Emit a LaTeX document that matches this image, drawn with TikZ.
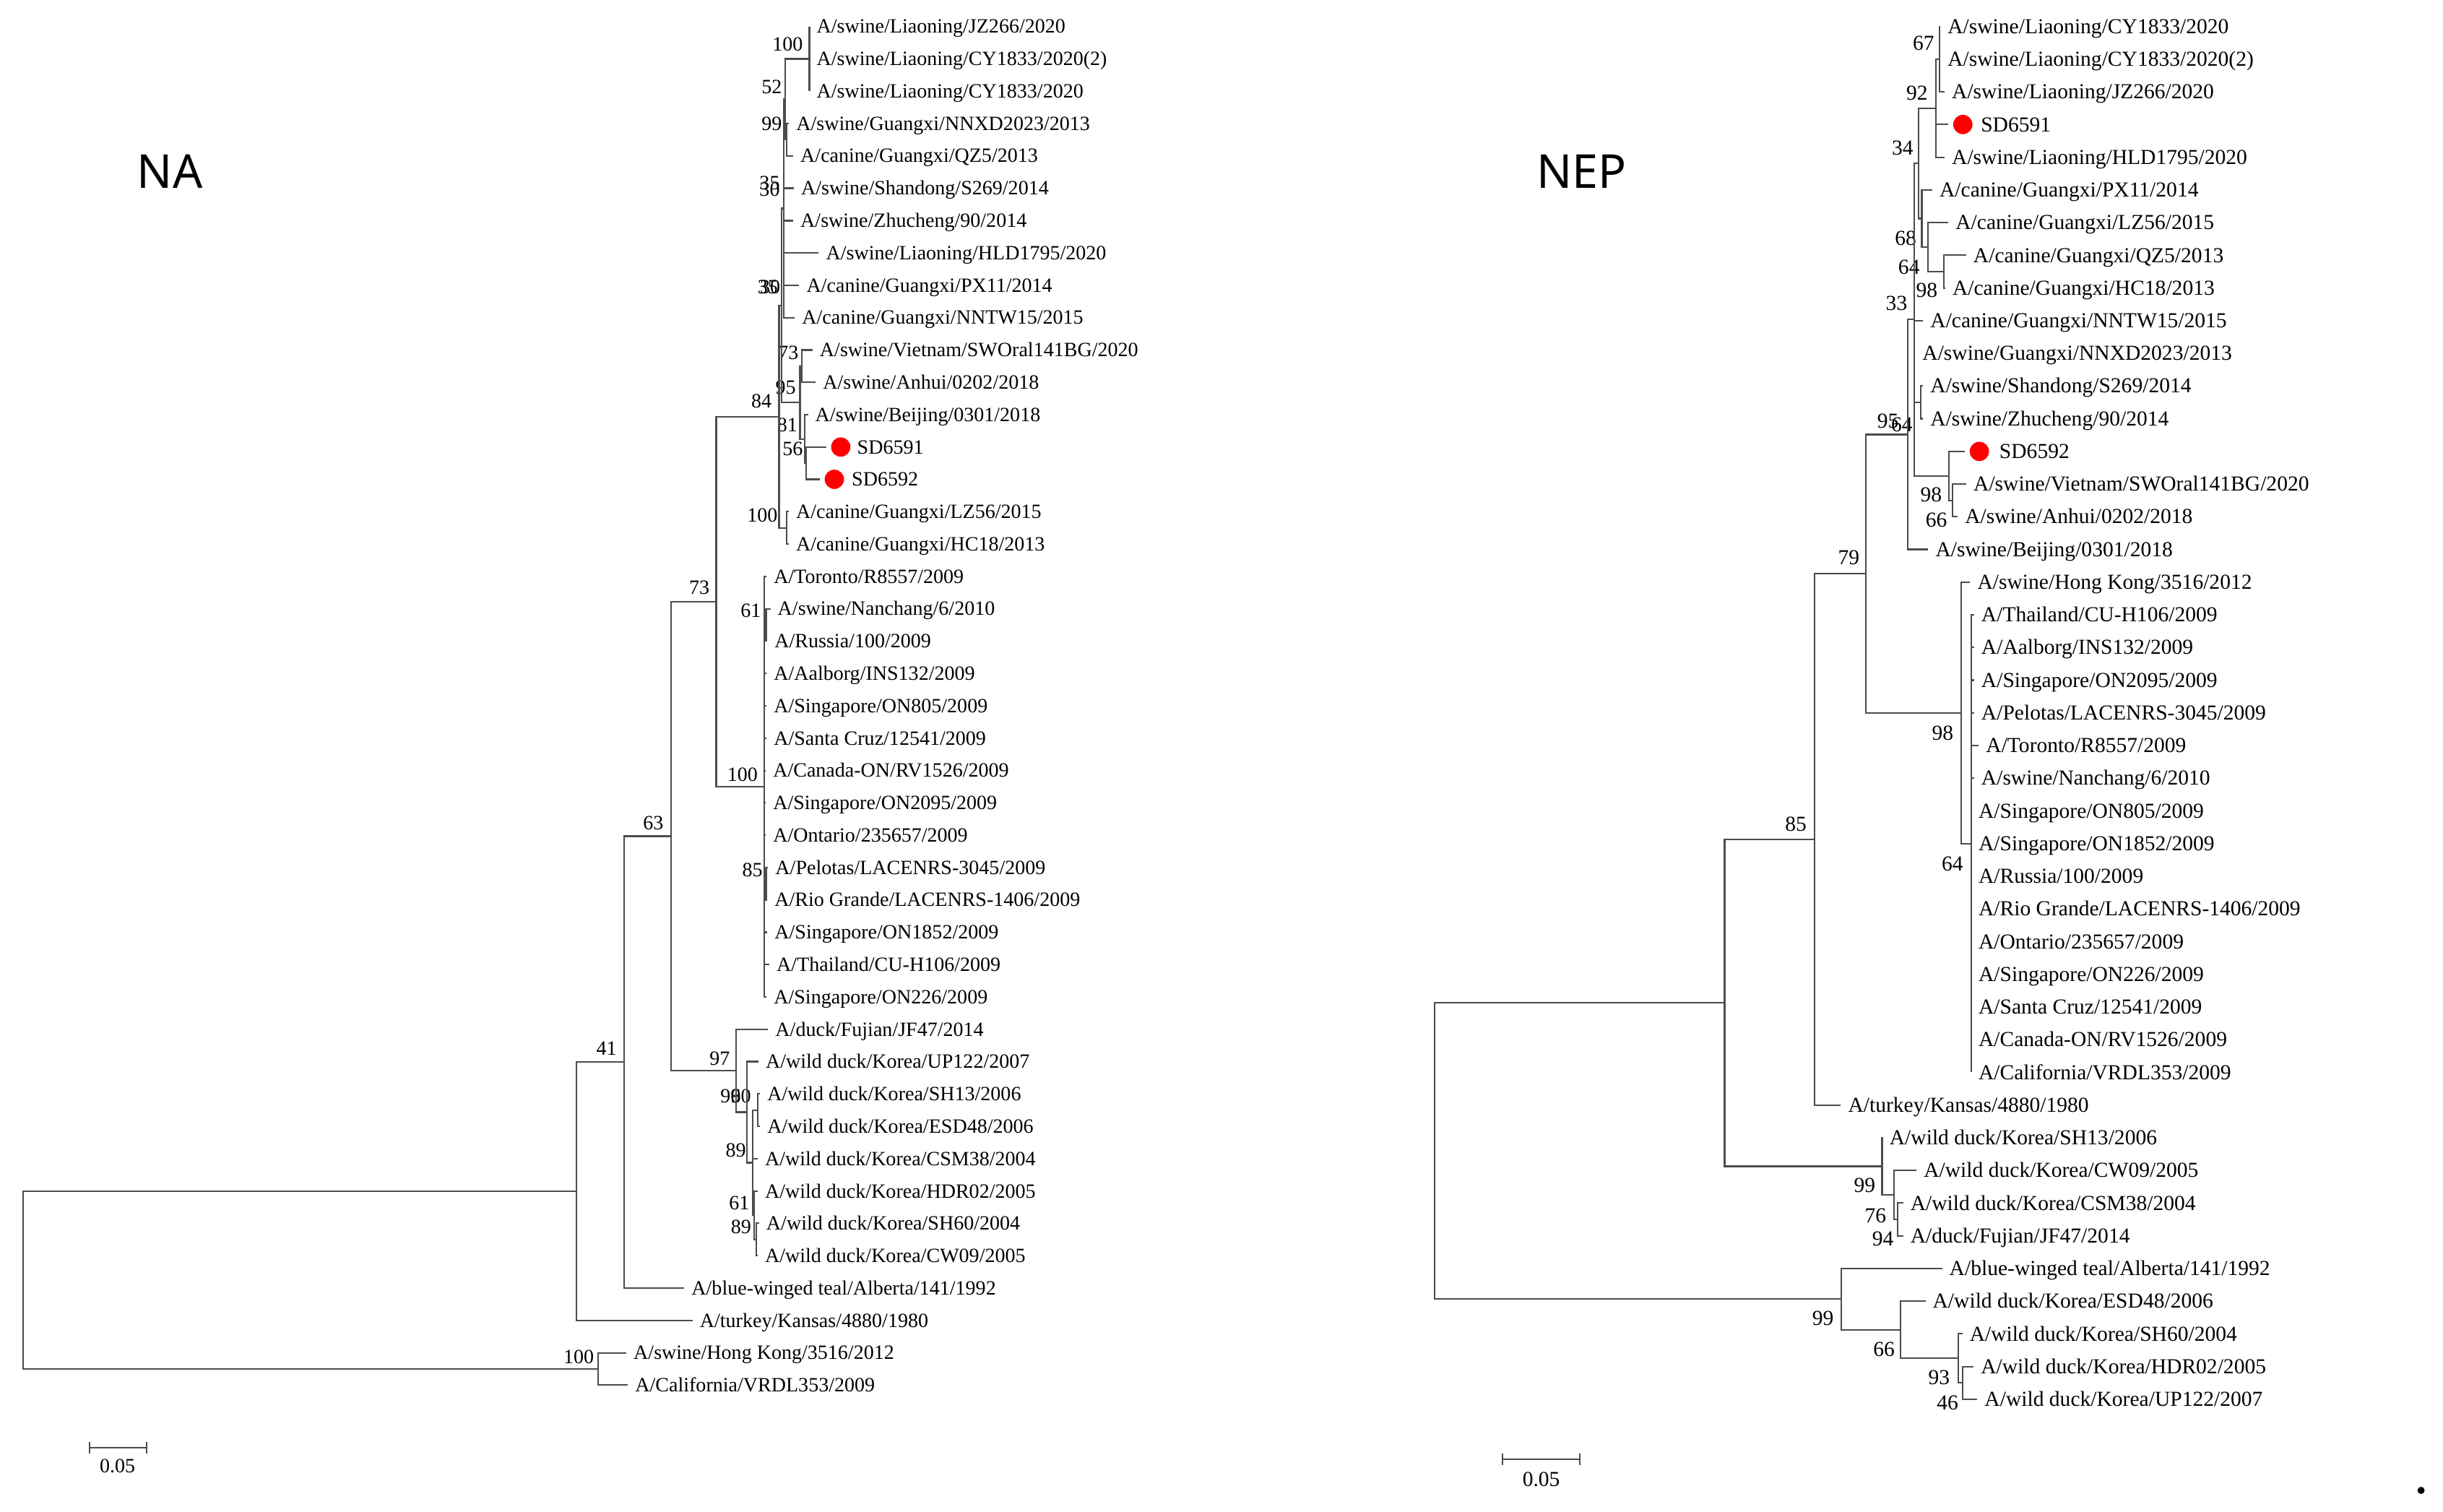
\documentclass[tikz,border=0pt]{standalone}
\usepackage{fontspec}
\setmainfont{Liberation Serif}
\newfontfamily\headfont{Noto Sans}
\newcommand{\tipsize}{\fontsize{13}{15}\selectfont}
\newcommand{\nepsize}{\fontsize{13.7}{16}\selectfont}
\newcommand{\headsize}{\headfont\fontsize{30}{34}\selectfont}

\tikzset{
	treepicture/.style = {
		x = 1pt,
		y = -1pt,
		branch/.style = {
			draw = black!70,
			line width = 1pt
		}
	},
	tip/.style = {
		anchor = west,
		inner xsep = 4.5pt,
		inner ysep = 0pt,
		text height = 8.6pt,
		text depth = 0pt,
		font = \tipsize
	},
	boot/.style = {
		anchor = east,
		inner sep = 0pt,
		text height = 8.6pt,
		text depth = 0pt,
		font = \tipsize
	},
	neptip/.style = {
		tip,
		text height = 9pt,
		font = \nepsize
	},
	nepboot/.style = {
		boot,
		text height = 9pt,
		font = \nepsize
	},
	barlabel/.style = {
		inner sep = 0pt,
		text height = 8.6pt,
		text depth = 0pt,
		font = \tipsize
	},
	sample/.style = {
		circle,
		fill = red,
		inner sep = 0pt,
		minimum size = 12.4pt,
		outer sep = 3pt
	},
	genetitle/.style = {
		font = \headsize
	}
}

\begin{document}
\begin{tikzpicture}[treepicture]
	\useasboundingbox (0,0) rectangle (1568,970);

	\node[genetitle] (titleNA) at (109,110) {NA};
	\node[genetitle] (titleNEP) at (1015,110) {NEP};

	\coordinate (naRoot) at (15,821.5);
	\coordinate (naO) at (384,878.55);
	\coordinate (naU) at (370,764.5);
	\coordinate (naN41) at (400.6,681.6);
	\coordinate (naN63) at (430.7,536.65);
	\coordinate (naN73) at (459.7,386.1);
	\coordinate (naN84) at (500,267.4);
	\coordinate (naTop) at (501.8,196.05);
	\coordinate (naMid) at (503,133.75);
	\coordinate (naN52) at (504,63.7);
	\coordinate (naLia) at (519.5,37.8);
	\coordinate (naN99) at (505,89.65);
	\coordinate (naN95) at (513.5,258.35);
	\coordinate (naVie) at (514.7,235);
	\coordinate (naN81) at (516.5,281.7);
	\coordinate (naN56) at (517.5,297.25);
	\coordinate (naCan) at (505,338.8);
	\coordinate (naPan) at (490.7,504.85);
	\coordinate (naNan) at (491.7,401.05);
	\coordinate (naPel) at (491.7,567.15);
	\coordinate (naN97) at (472.5,687.2);
	\coordinate (naKor) at (479.5,713.75);
	\coordinate (naN89) at (483.1,746.2);
	\coordinate (naEsd) at (486.2,712.45);
	\coordinate (naN61) at (484,779.95);
	\coordinate (naSh) at (485.5,795.5);

	\node[tip] (na1) at (519.5,17) {A/swine/Liaoning/JZ266/2020};
	\node[tip] (na2) at (519.5,37.8) {A/swine/Liaoning/CY1833/2020(2)};
	\node[tip] (na3) at (519.5,58.5) {A/swine/Liaoning/CY1833/2020};
	\node[tip] (na4) at (506.4,79.3) {A/swine/Guangxi/NNXD2023/2013};
	\node[tip] (na5) at (509.1,100) {A/canine/Guangxi/QZ5/2013};
	\node[tip] (na6) at (509.5,120.8) {A/swine/Shandong/S269/2014};
	\node[tip] (na7) at (509.1,141.6) {A/swine/Zhucheng/90/2014};
	\node[tip] (na8) at (525.5,162.3) {A/swine/Liaoning/HLD1795/2020};
	\node[tip] (na9) at (513,183.1) {A/canine/Guangxi/PX11/2014};
	\node[tip] (na10) at (510.1,203.8) {A/canine/Guangxi/NNTW15/2015};
	\node[tip] (na11) at (521.5,224.6) {A/swine/Vietnam/SWOral141BG/2020};
	\node[tip] (na12) at (523.5,245.4) {A/swine/Anhui/0202/2018};
	\node[tip] (na13) at (518.6,266.1) {A/swine/Beijing/0301/2018};
	\node[sample] (dotA1) at (539.6,286.9) {};
	\node[tip] (na14) at (545.5,286.9) {SD6591};
	\node[sample] (dotA2) at (535.5,307.6) {};
	\node[tip] (na15) at (542,307.6) {SD6592};
	\node[tip] (na16) at (506.3,328.4) {A/canine/Guangxi/LZ56/2015};
	\node[tip] (na17) at (506.3,349.2) {A/canine/Guangxi/HC18/2013};
	\node[tip] (na18) at (492,369.9) {A/Toronto/R8557/2009};
	\node[tip] (na19) at (494.5,390.7) {A/swine/Nanchang/6/2010};
	\node[tip] (na20) at (492.5,411.4) {A/Russia/100/2009};
	\node[tip] (na21) at (492,432.2) {A/Aalborg/INS132/2009};
	\node[tip] (na22) at (492,453) {A/Singapore/ON805/2009};
	\node[tip] (na23) at (492,473.7) {A/Santa Cruz/12541/2009};
	\node[tip] (na24) at (491.5,494.5) {A/Canada-ON/RV1526/2009};
	\node[tip] (na25) at (491.5,515.2) {A/Singapore/ON2095/2009};
	\node[tip] (na26) at (491.5,536) {A/Ontario/235657/2009};
	\node[tip] (na27) at (493,556.8) {A/Pelotas/LACENRS-3045/2009};
	\node[tip] (na28) at (492.5,577.5) {A/Rio Grande/LACENRS-1406/2009};
	\node[tip] (na29) at (492.5,598.3) {A/Singapore/ON1852/2009};
	\node[tip] (na30) at (493.8,619) {A/Thailand/CU-H106/2009};
	\node[tip] (na31) at (492,639.8) {A/Singapore/ON226/2009};
	\node[tip] (na32) at (493,660.6) {A/duck/Fujian/JF47/2014};
	\node[tip] (na33) at (486.8,681.3) {A/wild duck/Korea/UP122/2007};
	\node[tip] (na34) at (487.8,702.1) {A/wild duck/Korea/SH13/2006};
	\node[tip] (na35) at (487.8,722.8) {A/wild duck/Korea/ESD48/2006};
	\node[tip] (na36) at (486.3,743.6) {A/wild duck/Korea/CSM38/2004};
	\node[tip] (na37) at (486.3,764.4) {A/wild duck/Korea/HDR02/2005};
	\node[tip] (na38) at (487.2,785.1) {A/wild duck/Korea/SH60/2004};
	\node[tip] (na39) at (486.3,805.9) {A/wild duck/Korea/CW09/2005};
	\node[tip] (na40) at (439.2,826.6) {A/blue-winged teal/Alberta/141/1992};
	\node[tip] (na41) at (444.5,847.4) {A/turkey/Kansas/4880/1980};
	\node[tip] (na42) at (402,868.2) {A/swine/Hong Kong/3516/2012};
	\node[tip] (na43) at (403,888.9) {A/California/VRDL353/2009};

	\node[boot] (bsA1) at (515.5,28.6) {100};
	\node[boot] (bsA2) at (502,55.6) {52};
	\node[boot] (bsA3) at (502,79.6) {99};
	\node[boot] (bsA4) at (500.7,117.5) {35};
	\node[boot] (bsA5) at (500.7,121.5) {30};
	\node[boot] (bsA6) at (499.5,184.3) {35};
	\node[boot] (bsA7) at (501,184.3) {30};
	\node[boot] (bsA8) at (512.7,226.4) {73};
	\node[boot] (bsA9) at (511,248.8) {95};
	\node[boot] (bsA10) at (495.4,257.3) {84};
	\node[boot] (bsA11) at (512,272.7) {81};
	\node[boot] (bsA12) at (515.5,288.2) {56};
	\node[boot] (bsA13) at (499.3,330.7) {100};
	\node[boot] (bsA14) at (455.5,376.9) {73};
	\node[boot] (bsA15) at (488.6,392) {61};
	\node[boot] (bsA16) at (486.5,497) {100};
	\node[boot] (bsA17) at (489.6,558.5) {85};
	\node[boot] (bsA18) at (426,528.3) {63};
	\node[boot] (bsA19) at (468.6,679.5) {97};
	\node[boot] (bsA20) at (475.6,703.2) {96};
	\node[boot] (bsA21) at (482.2,703.2) {90};
	\node[boot] (bsA22) at (479,738.3) {89};
	\node[boot] (bsA23) at (481.2,772.2) {61};
	\node[boot] (bsA24) at (482.3,787.2) {89};
	\node[boot] (bsA25) at (396,673) {41};
	\node[boot] (bsA26) at (381.4,870.9) {100};

	\coordinate (nbRoot) at (920.7,738.7);
	\coordinate (nbUp) at (1106.9,643.6);
	\coordinate (nbN85) at (1164.7,538.7);
	\coordinate (nbN79) at (1197.5,368.2);
	\coordinate (nbPan) at (1258.9,457.5);
	\coordinate (nb2009) at (1265.2,541.4);
	\coordinate (nbN95) at (1224.3,278.85);
	\coordinate (nbN33) at (1228.8,205.1);
	\coordinate (nbN34) at (1231.3,104.85);
	\coordinate (nbN92) at (1242.7,69.45);
	\coordinate (nbLia) at (1244.7,38);
	\coordinate (nbN68) at (1233.5,140.25);
	\coordinate (nbLz) at (1237.5,158.6);
	\coordinate (nbQz) at (1247.8,174.3);
	\coordinate (nbSha) at (1232.8,258.2);
	\coordinate (nbSd) at (1251,305.4);
	\coordinate (nbVie) at (1253.2,321.15);
	\coordinate (nbN99a) at (1208,748.5);
	\coordinate (nbN76) at (1215.5,766.85);
	\coordinate (nbN94) at (1218,782.6);
	\coordinate (nbN99b) at (1181.8,833.75);
	\coordinate (nbN66) at (1219.7,853.4);
	\coordinate (nbN93) at (1257,871.75);
	\coordinate (nbN46) at (1259.8,887.5);

	\node[neptip] (nb1) at (1245.4,17) {A/swine/Liaoning/CY1833/2020};
	\node[neptip] (nb2) at (1245.4,38) {A/swine/Liaoning/CY1833/2020(2)};
	\node[neptip] (nb3) at (1248.1,59) {A/swine/Liaoning/JZ266/2020};
	\node[sample] (dotB1) at (1259.8,79.9) {};
	\node[neptip] (nb4) at (1266.7,79.9) {SD6591};
	\node[neptip] (nb5) at (1248.1,100.9) {A/swine/Liaoning/HLD1795/2020};
	\node[neptip] (nb6) at (1240.2,121.9) {A/canine/Guangxi/PX11/2014};
	\node[neptip] (nb7) at (1250.5,142.9) {A/canine/Guangxi/LZ56/2015};
	\node[neptip] (nb8) at (1261.9,163.8) {A/canine/Guangxi/QZ5/2013};
	\node[neptip] (nb9) at (1248.5,184.8) {A/canine/Guangxi/HC18/2013};
	\node[neptip] (nb10) at (1234.3,205.8) {A/canine/Guangxi/NNTW15/2015};
	\node[neptip] (nb11) at (1229.2,226.8) {A/swine/Guangxi/NNXD2023/2013};
	\node[neptip] (nb12) at (1234.3,247.7) {A/swine/Shandong/S269/2014};
	\node[neptip] (nb13) at (1234.3,268.7) {A/swine/Zhucheng/90/2014};
	\node[sample] (dotB2) at (1270.4,289.7) {};
	\node[neptip] (nb14) at (1278.6,289.7) {SD6592};
	\node[neptip] (nb15) at (1262,310.7) {A/swine/Vietnam/SWOral141BG/2020};
	\node[neptip] (nb16) at (1256.5,331.6) {A/swine/Anhui/0202/2018};
	\node[neptip] (nb17) at (1237.6,352.6) {A/swine/Beijing/0301/2018};
	\node[neptip] (nb18) at (1264.5,373.6) {A/swine/Hong Kong/3516/2012};
	\node[neptip] (nb19) at (1267,394.6) {A/Thailand/CU-H106/2009};
	\node[neptip] (nb20) at (1267,415.5) {A/Aalborg/INS132/2009};
	\node[neptip] (nb21) at (1267,436.5) {A/Singapore/ON2095/2009};
	\node[neptip] (nb22) at (1267,457.5) {A/Pelotas/LACENRS-3045/2009};
	\node[neptip] (nb23) at (1270,478.5) {A/Toronto/R8557/2009};
	\node[neptip] (nb24) at (1267,499.4) {A/swine/Nanchang/6/2010};
	\node[neptip] (nb25) at (1265.2,520.4) {A/Singapore/ON805/2009};
	\node[neptip] (nb26) at (1265.2,541.4) {A/Singapore/ON1852/2009};
	\node[neptip] (nb27) at (1265.2,562.4) {A/Russia/100/2009};
	\node[neptip] (nb28) at (1265.2,583.3) {A/Rio Grande/LACENRS-1406/2009};
	\node[neptip] (nb29) at (1265.2,604.3) {A/Ontario/235657/2009};
	\node[neptip] (nb30) at (1265.2,625.3) {A/Singapore/ON226/2009};
	\node[neptip] (nb31) at (1265.2,646.3) {A/Santa Cruz/12541/2009};
	\node[neptip] (nb32) at (1265.2,667.2) {A/Canada-ON/RV1526/2009};
	\node[neptip] (nb33) at (1265.2,688.2) {A/California/VRDL353/2009};
	\node[neptip] (nb34) at (1181.5,709.2) {A/turkey/Kansas/4880/1980};
	\node[neptip] (nb35) at (1208.1,730.2) {A/wild duck/Korea/SH13/2006};
	\node[neptip] (nb36) at (1230.1,751.1) {A/wild duck/Korea/CW09/2005};
	\node[neptip] (nb37) at (1221.5,772.1) {A/wild duck/Korea/CSM38/2004};
	\node[neptip] (nb38) at (1221.5,793.1) {A/duck/Fujian/JF47/2014};
	\node[neptip] (nb39) at (1246.5,814.1) {A/blue-winged teal/Alberta/141/1992};
	\node[neptip] (nb40) at (1235.8,835) {A/wild duck/Korea/ESD48/2006};
	\node[neptip] (nb41) at (1259.5,856) {A/wild duck/Korea/SH60/2004};
	\node[neptip] (nb42) at (1266.7,877) {A/wild duck/Korea/HDR02/2005};
	\node[neptip] (nb43) at (1269.1,898) {A/wild duck/Korea/UP122/2007};

	\node[nepboot] (bsB1) at (1241.6,27.8) {67};
	\node[nepboot] (bsB2) at (1237.5,59.5) {92};
	\node[nepboot] (bsB3) at (1228.2,95) {34};
	\node[nepboot] (bsB4) at (1230.2,153) {68};
	\node[nepboot] (bsB5) at (1232.3,171.5) {64};
	\node[nepboot] (bsB6) at (1243.7,186.2) {98};
	\node[nepboot] (bsB7) at (1224.3,194.7) {33};
	\node[nepboot] (bsB8) at (1218.8,270.4) {95};
	\node[nepboot] (bsB9) at (1227.7,272.7) {64};
	\node[nepboot] (bsB10) at (1246.5,317.5) {98};
	\node[nepboot] (bsB11) at (1249.9,333.8) {66};
	\node[nepboot] (bsB12) at (1193.6,357.6) {79};
	\node[nepboot] (bsB13) at (1253.9,470.4) {98};
	\node[nepboot] (bsB14) at (1159.7,529) {85};
	\node[nepboot] (bsB15) at (1260.2,554.5) {64};
	\node[nepboot] (bsB16) at (1203.8,760.6) {99};
	\node[nepboot] (bsB17) at (1210.8,780.1) {76};
	\node[nepboot] (bsB18) at (1215.5,794.8) {94};
	\node[nepboot] (bsB19) at (1177.1,846) {99};
	\node[nepboot] (bsB20) at (1216.2,866) {66};
	\node[nepboot] (bsB21) at (1251.6,884.1) {93};
	\node[nepboot] (bsB22) at (1257,900.2) {46};

	\coordinate (barA0) at (57.6,929);
	\coordinate (barA1) at (94,929);
	\node[barlabel] (barAlabel) at (75.4,941) {0.05};
	\coordinate (barB0) at (964.3,936.7);
	\coordinate (barB1) at (1014,936.7);
	\node[barlabel, font = \nepsize] (barBlabel) at (989.2,949.6) {0.05};
	\node[circle, fill, inner sep = 0pt, minimum size = 4.6pt] (speck) at (1553.9,956.5) {};

	\begin{scope}[every path/.style = branch]
		\path (naRoot) |- (naU);
		\path (naRoot) |- (naO);
		\path (naO) |- (na42.west);
		\path (naO) |- (na43.west);
		\path (naU) |- (naN41);
		\path (naU) |- (na41.west);
		\path (naN41) |- (naN63);
		\path (naN41) |- (na40.west);
		\path (naN63) |- (naN73);
		\path (naN63) |- (naN97);
		\path (naN73) |- (naN84);
		\path (naN73) |- (naPan);
		\path (naN84) |- (naTop);
		\path (naN84) |- (naCan);
		\path (naCan) |- (na16.west);
		\path (naCan) |- (na17.west);
		\path (naTop) |- (naMid);
		\path (naTop) |- (naN95);
		\path (naMid) |- (naN52);
		\foreach \t in {na6, na7, na8, na9, na10}
			\path (naMid) |- (\t.west);
		\path (naN52) |- (naLia);
		\path (naN52) |- (naN99);
		\foreach \t in {na1, na2, na3}
			\path (naLia) |- (\t.west);
		\path (naN99) |- (na4.west);
		\path (naN99) |- (na5.west);
		\path (naN95) |- (naVie);
		\path (naN95) |- (naN81);
		\path (naVie) |- (na11.west);
		\path (naVie) |- (na12.west);
		\path (naN81) |- (na13.west);
		\path (naN81) |- (naN56);
		\path (naN56) |- (dotA1.west);
		\path (naN56) |- (dotA2.west);
		\path (naPan) |- (naNan);
		\path (naPan) |- (naPel);
		\foreach \t in {na18, na21, na22, na23, na24, na25, na26, na29, na30, na31}
			\path (naPan) |- (\t.west);
		\path (naNan) |- (na19.west);
		\path (naNan) |- (na20.west);
		\path (naPel) |- (na27.west);
		\path (naPel) |- (na28.west);
		\path (naN97) |- (na32.west);
		\path (naN97) |- (naKor);
		\path (naKor) |- (na33.west);
		\path (naKor) |- (naN89);
		\path (naN89) |- (naEsd);
		\path (naN89) |- (na36.west);
		\path (naN89) |- (naN61);
		\path (naEsd) |- (na34.west);
		\path (naEsd) |- (na35.west);
		\path (naN61) |- (na37.west);
		\path (naN61) |- (naSh);
		\path (naSh) |- (na38.west);
		\path (naSh) |- (na39.west);

		\path (nbRoot) |- (nbUp);
		\path (nbRoot) |- (nbN99b);
		\path (nbUp) |- (nbN85);
		\path (nbUp) |- (nbN99a);
		\path (nbN85) |- (nbN79);
		\path (nbN85) |- (nb34.west);
		\path (nbN79) |- (nbN95);
		\path (nbN79) |- (nbPan);
		\path (nbPan) |- (nb18.west);
		\path (nbPan) |- (nb2009);
		\foreach \t in {nb19, nb20, nb21, nb22, nb23, nb24, nb25, nb26, nb27, nb28, nb29, nb30, nb31, nb32, nb33}
			\path (nb2009) |- (\t.west);
		\path (nbN95) |- (nbN33);
		\path (nbN95) |- (nb17.west);
		\path (nbN33) |- (nbN34);
		\path (nbN33) |- (nb10.west);
		\path (nbN33) |- (nb11.west);
		\path (nbN33) |- (nbSha);
		\path (nbN33) |- (nbSd);
		\path (nbN34) |- (nbN92);
		\path (nbN34) |- (nbN68);
		\path (nbN92) |- (nbLia);
		\path (nbN92) |- (dotB1.west);
		\path (nbN92) |- (nb5.west);
		\foreach \t in {nb1, nb2, nb3}
			\path (nbLia) |- (\t.west);
		\path (nbN68) |- (nb6.west);
		\path (nbN68) |- (nbLz);
		\path (nbLz) |- (nb7.west);
		\path (nbLz) |- (nbQz);
		\path (nbQz) |- (nb8.west);
		\path (nbQz) |- (nb9.west);
		\path (nbSha) |- (nb12.west);
		\path (nbSha) |- (nb13.west);
		\path (nbSd) |- (dotB2.west);
		\path (nbSd) |- (nbVie);
		\path (nbVie) |- (nb15.west);
		\path (nbVie) |- (nb16.west);
		\path (nbN99a) |- (nb35.west);
		\path (nbN99a) |- (nbN76);
		\path (nbN76) |- (nb36.west);
		\path (nbN76) |- (nbN94);
		\path (nbN94) |- (nb37.west);
		\path (nbN94) |- (nb38.west);
		\path (nbN99b) |- (nb39.west);
		\path (nbN99b) |- (nbN66);
		\path (nbN66) |- (nb40.west);
		\path (nbN66) |- (nbN93);
		\path (nbN93) |- (nb41.west);
		\path (nbN93) |- (nbN46);
		\path (nbN46) |- (nb42.west);
		\path (nbN46) |- (nb43.west);

		\path (barA0) -- (barA1);
		\path ([yshift = 3.7pt]barA0) -- ([yshift = -3.7pt]barA0);
		\path ([yshift = 3.7pt]barA1) -- ([yshift = -3.7pt]barA1);
		\path (barB0) -- (barB1);
		\path ([yshift = 3.7pt]barB0) -- ([yshift = -3.7pt]barB0);
		\path ([yshift = 3.7pt]barB1) -- ([yshift = -3.7pt]barB1);
	\end{scope}
\end{tikzpicture}
\end{document}
